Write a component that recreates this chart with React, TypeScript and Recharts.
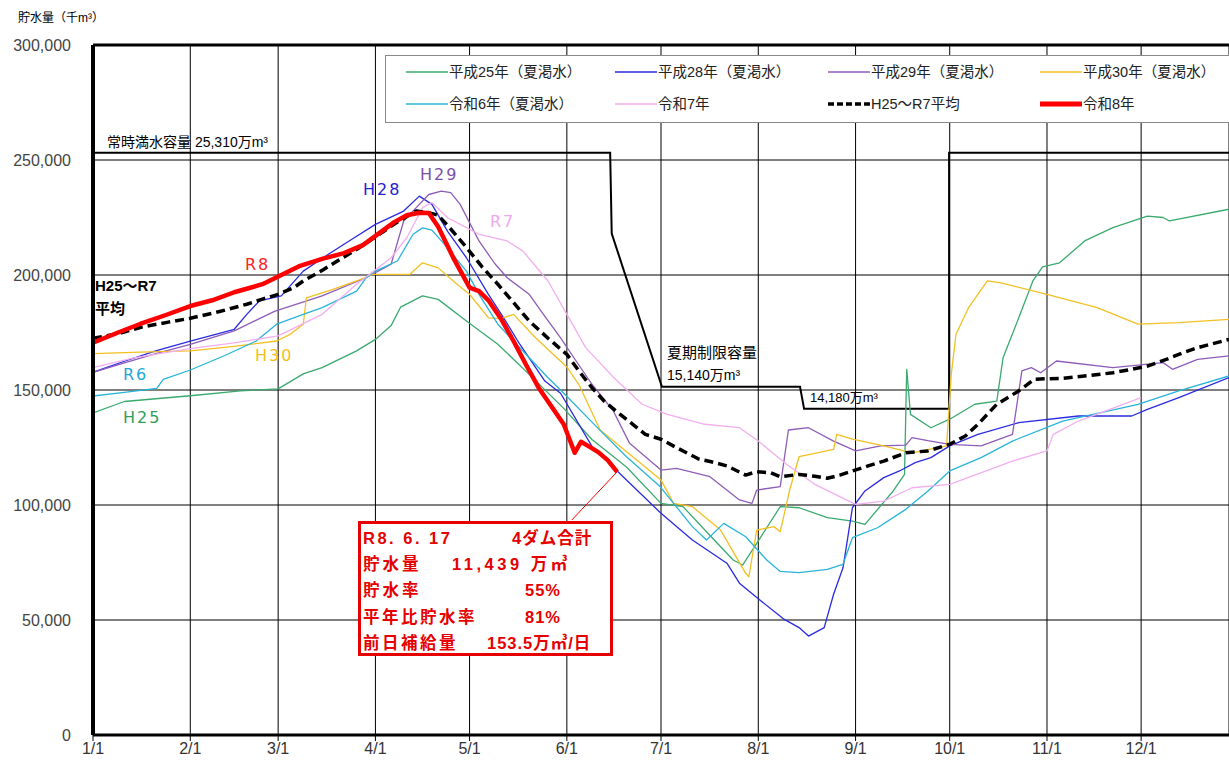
import React from "react";
import {
  LineChart,
  Line,
  XAxis,
  YAxis,
  CartesianGrid,
  ReferenceLine,
  Legend,
} from "recharts";

type Pt = [number, number];

// day of year (1/1 = 0) of each month start
const monthDays = [0, 31, 59, 90, 120, 151, 181, 212, 243, 273, 304, 334];
const monthLabels = ["1/1", "2/1", "3/1", "4/1", "5/1", "6/1", "7/1", "8/1", "9/1", "10/1", "11/1", "12/1"];
const yTicks = [0, 50000, 100000, 150000, 200000, 250000, 300000];

// 常時満水容量 / 夏期制限容量 (千m3)
const capacity: Pt[] = [
  [0, 253100], [164.8, 253100], [165.3, 218000], [181.3, 151400], [225.3, 151400],
  [226.6, 141800], [272.8, 141800], [272.8, 253100], [362, 253100],
];

const h25: Pt[] = [
  [0, 140000], [10, 145000], [20, 146200], [31, 147500], [47, 149600], [59, 150500], [67, 157000],
  [73, 159700], [84, 167000], [90, 172000], [95, 178000], [98, 186000], [105, 190900], [110, 189400],
  [119, 180000], [129, 169900], [139, 156800], [150, 142000], [159, 128500], [170, 116500], [181, 100700],
  [188, 99300], [197, 86200], [204, 76100], [207, 73900], [211.5, 83300], [219, 99300],
  [225, 98800], [234, 94500], [242, 93000], [246, 91600], [255, 106100], [258.6, 113300], [259.3, 159000],
  [260.5, 139400], [267, 133600], [273, 137300], [281, 143800], [288, 145200], [290, 164000], [295, 181400],
  [299.5, 197400], [302.6, 203500], [308, 205300], [316, 214800], [325, 220600], [336, 225600], [341, 225000],
  [343, 223500], [362, 228600],
];

const h28: Pt[] = [
  [0, 157700], [10, 162500], [20, 167000], [31, 171300], [40, 174500], [45, 176400], [49, 182900],
  [53, 188700], [60, 190900], [67, 201700], [75, 209000], [83, 216000], [90, 222000], [99, 227800],
  [104, 234300], [108, 230700], [113, 219000], [119, 207500], [126, 191600], [131, 181000], [136, 169900],
  [144, 153900], [149, 148600], [159, 125500], [170, 110900], [181, 96400], [191, 84800], [202, 74700],
  [206, 66000], [212.5, 58700], [220, 50500], [225, 46700], [228, 43000],
  [233, 46700], [236, 61200], [239, 72700], [242, 98800], [246, 106100], [252, 111900], [257, 114800],
  [262, 118400], [267, 120600], [273, 125700], [282, 130700], [295, 135800], [314, 138700], [331, 138700],
  [336, 141600], [346, 146700], [362, 155400],
];

const h29: Pt[] = [
  [0, 157700], [10, 161800], [20, 165800], [31, 169800], [45, 175700], [58, 184300], [73, 190900],
  [87, 198800], [95, 204700], [99, 223500], [103, 229300], [107, 235000], [111, 236500], [114, 235800],
  [117, 230700], [123, 214800], [128, 205000], [132, 198800], [139, 191600], [144, 182000], [149, 172700],
  [154, 162500], [159, 152500], [165.8, 140900], [171, 126800], [181, 115200], [186, 115900],
  [196.6, 112300], [206, 102200], [210, 100700], [211.5, 106500], [219, 108000], [221.6, 132600], [228, 133600],
  [236, 127800], [243, 123500], [251, 125700], [259, 126000], [261, 129300], [266, 128000], [273, 126400],
  [283, 125700], [293, 130700], [296, 158300], [299, 159700], [302, 157500], [307, 162600], [325, 159700],
  [341, 161900], [344, 159000], [352, 163300], [362, 164800],
];

const h30: Pt[] = [
  [0, 165800], [15, 166500], [31, 167000], [45, 169000], [58.5, 171300], [62.8, 174200], [67, 178600],
  [68, 190100], [76, 193500], [84, 197400], [89, 200300], [101, 200300], [105, 205300], [110, 203100],
  [116, 196000], [120, 191600], [126, 181400], [130, 181000], [134, 182900], [141, 172700], [151, 160000],
  [155, 152000], [161.6, 132600], [172, 121000], [181, 110900], [185, 100700], [191, 99300], [200, 89100],
  [208, 70300], [209, 68800], [211.5, 89100], [217, 90600], [219, 88400], [222, 106500], [225, 121000],
  [236, 124200], [237, 130700], [242, 128600], [252, 125700], [261, 122700], [272, 125700], [273.5, 156800],
  [275, 174200], [279, 185800], [285, 197400], [289, 196700], [304, 191600], [320, 185800], [333, 178600],
  [346, 179300], [362, 180700],
];

const r6: Pt[] = [
  [0, 147400], [10, 149000], [20.3, 150700], [22.4, 154600], [31, 158700], [42, 165000], [52, 171300],
  [58.5, 178600], [67, 182900], [73, 185800], [84, 193000], [87, 198800], [90, 201700], [97, 206100],
  [102, 217700], [105, 220500], [108, 219500], [112, 213300], [119, 201700], [123, 191600], [129, 178600],
  [134, 171300], [145, 155300], [149, 150000], [159.4, 135500], [170, 121000], [180.7, 108000],
  [191, 90600], [195.5, 84800], [201, 92000], [208, 86200], [214.7, 76100], [219, 71100],
  [225, 70600], [234, 72000], [239, 74200], [242, 85800], [250, 90100], [259, 98100], [266, 106000],
  [273, 114800], [283, 120600], [293, 127800], [309, 136500], [333, 143800], [346, 149600], [362, 156100],
];

const r7: Pt[] = [
  [0, 159700], [13, 164000], [31, 168000], [45, 170500], [59, 173500], [73, 182900], [84, 196000],
  [95, 207500], [100, 216200], [105, 229300], [108, 231500], [113, 224900], [119, 220600], [123, 217700],
  [132, 214800], [137, 210400], [145, 197400], [151, 182900], [157, 168400], [166, 155300], [175, 143800],
  [183, 139400], [195, 135100], [206, 133600], [212, 127800], [221, 117700], [230, 109000], [243, 100300],
  [252, 101700], [261, 107500], [273, 109000], [293, 119100], [304, 123500], [306, 130700], [314, 136500],
  [334, 146700],
];

const avg: Pt[] = [
  [0, 172500], [8, 174500], [16, 177500], [24, 179500], [31, 181200], [40, 184000], [49, 187300],
  [54, 189500], [59, 191600], [64, 194500], [67, 197400], [73, 202000], [79, 207000], [85, 212000],
  [91, 217500], [97, 223000], [103, 227800], [107, 227100], [110, 226000], [114, 220000], [119, 212000],
  [124, 203500], [129, 196000], [134, 188000], [139, 180000], [145, 172500], [151, 165500], [155, 158000],
  [159, 151000], [163, 145000], [168, 139400], [173, 134000], [176, 130700], [181, 128600], [186, 124900],
  [193, 120000], [197, 118800], [202, 117000], [208, 113000], [211.5, 114500], [216, 114000], [219, 112300],
  [225, 113300], [230, 112500], [234, 111600], [238, 113000], [242, 114800], [247, 117000], [252, 119100],
  [259, 122700], [266, 123500], [273, 126400], [278, 130000], [282, 135100], [288, 143800], [295, 149600],
  [300, 154700], [309, 155100], [317, 156200], [325, 157500], [331, 159000], [336, 160400], [342, 163300],
  [347, 166000], [352, 168400], [362, 172000],
];

const r8: Pt[] = [
  [0, 170600], [8, 175000], [15, 178700], [23, 182500], [31, 186500], [38, 189000], [45, 192500],
  [54, 196000], [60, 200000], [66, 204000], [73, 207000], [80, 209500], [86, 213000], [91, 218000],
  [96, 223000], [100, 226000], [104, 227100], [107, 227000], [110, 221000], [115, 207000], [120, 194500],
  [123, 193000], [126, 189000], [130, 181000], [134, 171300], [138, 161000], [142, 151000], [146, 143000],
  [150, 135100], [153.5, 122700], [155.5, 127500], [158, 125500], [161, 123000], [164, 119500], [167, 114400],
];

const legendNames = [
  "平成25年（夏渇水）", "平成28年（夏渇水）", "平成29年（夏渇水）", "平成30年（夏渇水）",
  "令和6年（夏渇水）", "令和7年", "H25～R7平均", "令和8年",
];

const series = [
  { name: legendNames[0], data: h25, color: "#3aaa6e", width: 1.3 },
  { name: legendNames[1], data: h28, color: "#2a2ae0", width: 1.3 },
  { name: legendNames[2], data: h29, color: "#8e5cb8", width: 1.3 },
  { name: legendNames[3], data: h30, color: "#f2c022", width: 1.3 },
  { name: legendNames[4], data: r6, color: "#28b4d8", width: 1.3 },
  { name: legendNames[5], data: r7, color: "#f2aef0", width: 1.3 },
  { name: legendNames[6], data: avg, color: "#000000", width: 3.5, dash: "9 5" },
  { name: legendNames[7], data: r8, color: "#ff0000", width: 4.5 },
];

const rows = (pts: Pt[]) => pts.map(([d, v]) => ({ d, v }));

const JP = "'Liberation Sans', 'Noto Sans CJK JP', sans-serif";

function LegendBox() {
  const textX = [63, 272, 485, 697];
  const rowY = [16, 48];
  return (
    <div
      style={{
        position: "relative",
        width: 860,
        height: 68,
        background: "#fff",
        border: "1px solid #888",
        boxSizing: "border-box",
        fontFamily: JP,
        fontSize: 14.5,
        color: "#222",
      }}
    >
      {series.map((s, i) => {
        const col = i % 4;
        const row = Math.floor(i / 4);
        return (
          <div key={s.name}>
            <svg
              style={{ position: "absolute", left: textX[col] - 43, top: rowY[row] - 5 }}
              width={42}
              height={10}
            >
              <line
                x1={0}
                x2={42}
                y1={5}
                y2={5}
                stroke={s.color}
                strokeWidth={s.width > 4 ? 5 : s.width > 3 ? 3.5 : 1.5}
                strokeDasharray={s.dash ? "6 3" : undefined}
              />
            </svg>
            <div
              style={{
                position: "absolute",
                left: textX[col],
                top: rowY[row],
                transform: "translateY(-50%)",
                whiteSpace: "nowrap",
                lineHeight: 1,
              }}
            >
              {s.name}
            </div>
          </div>
        );
      })}
    </div>
  );
}

function Note(props: {
  x: number;
  y: number;
  color?: string;
  size?: number;
  bold?: boolean;
  spacing?: number;
  family?: string;
  children: React.ReactNode;
}) {
  return (
    <div
      style={{
        position: "absolute",
        left: props.x,
        top: props.y,
        transform: "translateY(-50%)",
        color: props.color || "#000",
        fontSize: props.size || 16,
        fontWeight: props.bold ? 700 : 400,
        letterSpacing: props.spacing || 0,
        fontFamily: props.family || JP,
        whiteSpace: "nowrap",
        lineHeight: 1,
      }}
    >
      {props.children}
    </div>
  );
}

const LBL = "'DejaVu Sans', sans-serif";
const RED = "#e60000";
const BOX_FS = 16.5;

export default function App() {
  return (
    <div
      style={{
        position: "absolute",
        left: 0,
        top: 0,
        width: 1229,
        height: 764,
        overflow: "hidden",
        background: "#fff",
        fontFamily: JP,
      }}
    >
      <LineChart width={1229} height={764} margin={{ top: 45, right: 0, bottom: 0, left: 0 }}>
        <CartesianGrid stroke="#000" strokeWidth={1} />
        <XAxis
          type="number"
          dataKey="d"
          domain={[0, 362]}
          ticks={monthDays}
          interval={0}
          allowDataOverflow
          height={29}
          tickFormatter={(d: number) => monthLabels[monthDays.indexOf(d)]}
          axisLine={{ stroke: "#000", strokeWidth: 3 }}
          tickLine={{ stroke: "#000" }}
          tickSize={6}
          tickMargin={2}
          tick={{ fill: "#333", fontSize: 16, fontFamily: JP }}
        />
        <YAxis
          type="number"
          domain={[0, 300000]}
          ticks={yTicks}
          interval={0}
          width={93}
          axisLine={{ stroke: "#000", strokeWidth: 4 }}
          tickLine={false}
          tickSize={0}
          tickMargin={22}
          tickFormatter={(v: number) => v.toLocaleString("en-US")}
          tick={{ fill: "#444", fontSize: 16, fontFamily: JP }}
        />
        <ReferenceLine y={300000} stroke="#000" strokeWidth={3} />
        <Line
          data={rows(capacity)}
          dataKey="v"
          stroke="#000"
          strokeWidth={2}
          dot={false}
          legendType="none"
          isAnimationActive={false}
        />
        {series.map((s) => (
          <Line
            key={s.name}
            name={s.name}
            data={rows(s.data)}
            dataKey="v"
            stroke={s.color}
            strokeWidth={s.width}
            strokeDasharray={s.dash}
            strokeLinejoin="round"
            dot={false}
            isAnimationActive={false}
          />
        ))}
        <ReferenceLine
          segment={[
            { x: 152.6, y: 93500 },
            { x: 167, y: 114400 },
          ]}
          stroke="#ff0000"
          strokeWidth={1}
        />
        <Legend
          layout="vertical"
          align="center"
          verticalAlign="middle"
          wrapperStyle={{ left: 385, top: 55, width: 860, height: 68 }}
          content={() => <LegendBox />}
        />
      </LineChart>

      <Note x={18} y={18} size={12}>貯水量（千m³）</Note>
      <Note x={107} y={142} size={14}>常時満水容量 25,310万m³</Note>
      <Note x={667} y={352} size={15}>夏期制限容量</Note>
      <Note x={667} y={375} size={14}>15,140万m³</Note>
      <Note x={810} y={397} size={13}>14,180万m³</Note>

      <Note x={363} y={190} size={16} color="#2323d0" family={LBL} spacing={2}>H28</Note>
      <Note x={420} y={175} size={16} color="#7b4fa8" family={LBL} spacing={2}>H29</Note>
      <Note x={490} y={222} size={16} color="#f0a8f0" family={LBL} spacing={2}>R7</Note>
      <Note x={245} y={265} size={16} color="#ff2020" family={LBL} spacing={2}>R8</Note>
      <Note x={95} y={285} size={15} bold>H25～R7</Note>
      <Note x={95} y={308} size={15} bold>平均</Note>
      <Note x={255} y={356} size={16} color="#f0c020" family={LBL} spacing={2}>H30</Note>
      <Note x={123} y={375} size={16} color="#20a8d8" family={LBL} spacing={2}>R6</Note>
      <Note x={123} y={418} size={16} color="#2e9e5e" family={LBL} spacing={2}>H25</Note>

      <div
        style={{
          position: "absolute",
          left: 358,
          top: 521,
          width: 255,
          height: 135,
          border: `3px solid ${RED}`,
          boxSizing: "border-box",
          background: "#fff",
        }}
      />
      <Note x={363} y={538} size={BOX_FS} bold color={RED} spacing={2.5}>R8. 6. 17</Note>
      <Note x={512} y={538} size={BOX_FS} bold color={RED} spacing={1}>4ダム合計</Note>
      <Note x={363} y={564} size={BOX_FS} bold color={RED} spacing={3}>貯水量</Note>
      <Note x={452} y={564} size={BOX_FS} bold color={RED} spacing={3.5}>11,439 万㎥</Note>
      <Note x={363} y={590} size={BOX_FS} bold color={RED} spacing={3}>貯水率</Note>
      <Note x={525} y={590} size={BOX_FS} bold color={RED} spacing={1}>55%</Note>
      <Note x={363} y={617} size={BOX_FS} bold color={RED} spacing={2.5}>平年比貯水率</Note>
      <Note x={525} y={617} size={BOX_FS} bold color={RED} spacing={1}>81%</Note>
      <Note x={363} y={643} size={BOX_FS} bold color={RED} spacing={2.5}>前日補給量</Note>
      <Note x={487} y={643} size={BOX_FS} bold color={RED} spacing={1}>153.5万㎥/日</Note>
    </div>
  );
}
